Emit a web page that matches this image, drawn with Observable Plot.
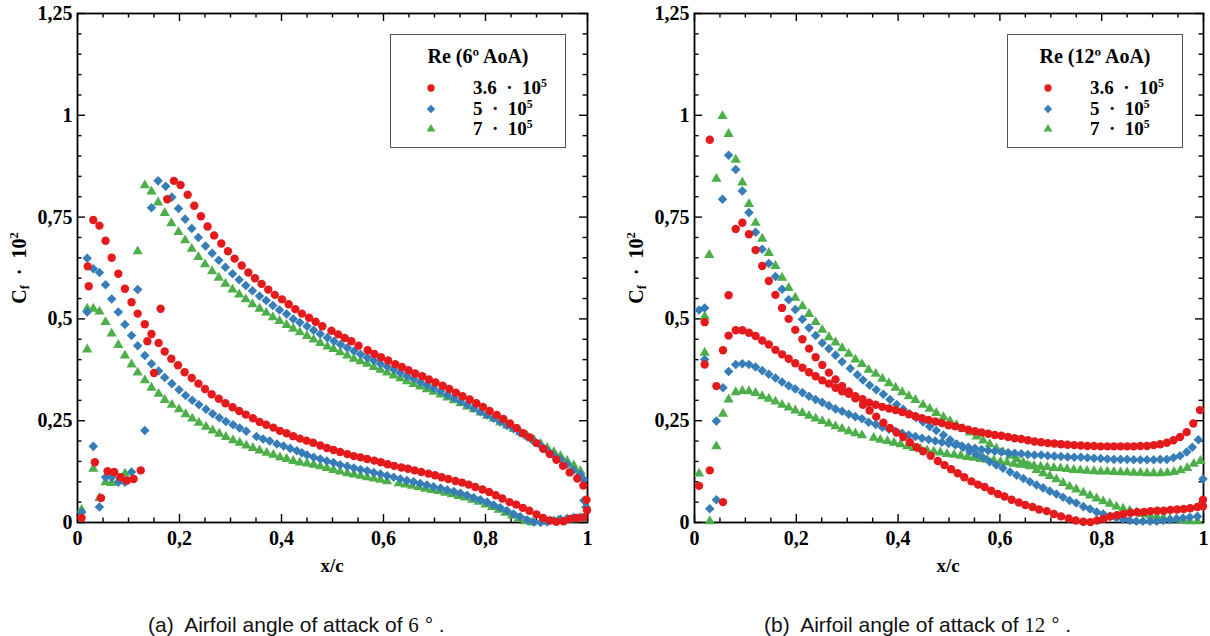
<!DOCTYPE html>
<html><head><meta charset="utf-8">
<script src="https://cdn.jsdelivr.net/npm/d3@7"></script>
<script src="https://cdn.jsdelivr.net/npm/@observablehq/plot@0.6"></script>
<style>
body{margin:0;background:#fff;}
#fig{position:relative;width:1210px;height:636px;overflow:hidden;background:#fff;}
.panel{position:absolute;top:0;}
.serif{font-family:"Liberation Serif","Times New Roman",serif;font-weight:bold;color:#000;white-space:nowrap;}
.serif sup{font-size:0.62em;vertical-align:0.6em;line-height:0;}
.serif sub{font-size:0.62em;vertical-align:-0.3em;line-height:0;}
.cap{position:absolute;font-family:"Liberation Sans",Arial,sans-serif;font-size:21px;color:#111;white-space:pre;}
.cap .m{font-family:"Liberation Serif",serif;}
</style></head><body><div id="fig"></div>
<script>
// ---------- tick values and labels ----------
const xMajorTicks = [0, 0.2, 0.4, 0.6, 0.8, 1];
const xTickLabels = ["0", "0,2", "0,4", "0,6", "0,8", "1"];
const xMinorTicks = [0.05, 0.1, 0.15, 0.25, 0.3, 0.35, 0.45, 0.5, 0.55, 0.65, 0.7, 0.75, 0.85, 0.9, 0.95];
const yMajorTicks = [0, 0.25, 0.5, 0.75, 1, 1.25];
const yTickLabels = ["0", "0,25", "0,5", "0,75", "1", "1,25"];
const yMinorTicks = [0.05, 0.1, 0.15, 0.2, 0.3, 0.35, 0.4, 0.45, 0.55, 0.6, 0.65, 0.7, 0.8, 0.85, 0.9, 0.95, 1.05, 1.1, 1.15, 1.2];
const seriesLabels = ["3.6 &nbsp;·&nbsp; 10<sup>5</sup>", "5 &nbsp;·&nbsp; 10<sup>5</sup>", "7 &nbsp;·&nbsp; 10<sup>5</sup>"];
const legendTitles = ["Re (6º AoA)", "Re (12º AoA)"];
const xAxisLabel = "x/c";
const yAxisLabel = "C<sub>f</sub> &nbsp;·&nbsp; 10<sup>2</sup>";
const captions = ['(a)  Airfoil angle of attack of <span class="m">6</span> ° .', '(b)  Airfoil angle of attack of <span class="m">12</span> ° .'];

// ---------- data: [x/c, Cf*100] ----------
const leftRe36 = [[0.008,0.011],[0.020,0.629],[0.022,0.580],[0.031,0.743],[0.034,0.148],[0.043,0.729],[0.046,0.060],[0.055,0.692],[0.059,0.126],[0.067,0.650],[0.072,0.124],[0.080,0.611],[0.084,0.111],[0.093,0.574],[0.097,0.103],[0.106,0.541],[0.110,0.107],[0.118,0.513],[0.124,0.128],[0.132,0.487],[0.137,0.445],[0.145,0.463],[0.150,0.367],[0.159,0.441],[0.163,0.525],[0.171,0.420],[0.176,0.794],
[0.184,0.402],[0.197,0.386],[0.210,0.369],[0.224,0.355],[0.237,0.341],[0.250,0.328],[0.263,0.315],[0.277,0.304],[0.290,0.293],[0.304,0.283],[0.317,0.274],[0.330,0.265],[0.344,0.256],[0.357,0.247],[0.370,0.240],[0.384,0.233],[0.397,0.225],[0.410,0.219],[0.423,0.212],[0.436,0.206],[0.449,0.201],[0.462,0.196],[0.476,0.189],[0.489,0.183],[0.502,0.178],[0.515,0.173],[0.529,0.168],[0.542,0.163],[0.555,0.160],[0.568,0.156],[0.582,0.152],[0.595,0.148],[0.608,0.143],[0.621,0.139],[0.635,0.135],[0.648,0.132],[0.661,0.128],[0.674,0.124],[0.688,0.120],[0.701,0.116],[0.714,0.111],[0.727,0.107],[0.741,0.102],[0.754,0.098],[0.767,0.093],[0.780,0.087],[0.794,0.081],[0.807,0.075],[0.820,0.067],[0.833,0.059],[0.847,0.050],[0.860,0.044],[0.873,0.036],[0.886,0.029],[0.900,0.020],[0.913,0.011],[0.926,0.005],[0.939,0.002],[0.953,0.003],[0.966,0.009],[0.979,0.011],[0.992,0.012],[0.999,0.030],
[0.189,0.839],[0.202,0.829],[0.216,0.805],[0.229,0.778],[0.242,0.752],[0.255,0.727],[0.268,0.705],[0.282,0.685],[0.295,0.666],[0.308,0.648],[0.322,0.631],[0.335,0.614],[0.348,0.600],[0.361,0.586],[0.374,0.572],[0.387,0.559],[0.401,0.548],[0.414,0.536],[0.427,0.524],[0.440,0.513],[0.454,0.503],[0.467,0.493],[0.480,0.482],[0.498,0.471],[0.511,0.462],[0.524,0.453],[0.537,0.445],[0.551,0.434],[0.569,0.423],[0.582,0.414],[0.595,0.406],[0.609,0.398],[0.623,0.389],[0.636,0.382],[0.649,0.374],[0.662,0.366],[0.676,0.359],[0.689,0.351],[0.702,0.344],[0.716,0.336],[0.729,0.328],[0.742,0.319],[0.755,0.310],[0.769,0.302],[0.782,0.293],[0.795,0.284],[0.808,0.274],[0.822,0.264],[0.835,0.254],[0.848,0.243],[0.861,0.232],[0.874,0.219],[0.887,0.209],[0.900,0.195],[0.913,0.181],[0.926,0.168],[0.939,0.154],[0.952,0.139],[0.965,0.123],[0.980,0.108],[0.992,0.091],[0.998,0.056]];

const leftRe5 = [[0.008,0.025],[0.019,0.649],[0.019,0.517],[0.031,0.623],[0.031,0.187],[0.043,0.614],[0.043,0.038],[0.055,0.584],[0.055,0.111],[0.067,0.549],[0.067,0.111],[0.080,0.517],[0.080,0.099],[0.093,0.486],[0.093,0.099],[0.106,0.459],[0.106,0.124],[0.118,0.572],[0.118,0.434],[0.132,0.410],[0.132,0.226],[0.145,0.390],[0.145,0.773],
[0.159,0.372],[0.171,0.356],[0.185,0.341],[0.199,0.326],[0.212,0.312],[0.225,0.300],[0.238,0.289],[0.252,0.278],[0.265,0.267],[0.278,0.257],[0.291,0.248],[0.305,0.240],[0.318,0.232],[0.331,0.224],[0.351,0.211],[0.364,0.205],[0.377,0.200],[0.391,0.193],[0.404,0.188],[0.417,0.182],[0.430,0.176],[0.440,0.171],[0.450,0.166],[0.463,0.160],[0.476,0.156],[0.489,0.151],[0.502,0.147],[0.515,0.142],[0.529,0.138],[0.542,0.134],[0.555,0.130],[0.568,0.127],[0.581,0.123],[0.594,0.119],[0.607,0.115],[0.620,0.111],[0.633,0.107],[0.646,0.103],[0.659,0.100],[0.672,0.096],[0.685,0.092],[0.698,0.088],[0.712,0.084],[0.725,0.080],[0.738,0.076],[0.751,0.072],[0.764,0.067],[0.777,0.061],[0.790,0.056],[0.803,0.050],[0.816,0.043],[0.829,0.036],[0.842,0.029],[0.855,0.021],[0.868,0.014],[0.882,0.006],[0.895,0.001],[0.908,0.000],[0.921,0.001],[0.934,0.005],[0.947,0.008],[0.960,0.010],[0.973,0.012],[0.986,0.013],[0.993,0.054],
[0.158,0.839],[0.173,0.826],[0.185,0.799],[0.198,0.771],[0.211,0.745],[0.224,0.722],[0.237,0.700],[0.251,0.679],[0.264,0.661],[0.277,0.644],[0.290,0.627],[0.304,0.611],[0.317,0.596],[0.330,0.582],[0.343,0.569],[0.357,0.556],[0.370,0.545],[0.383,0.533],[0.396,0.522],[0.410,0.512],[0.423,0.500],[0.436,0.491],[0.450,0.482],[0.463,0.472],[0.476,0.463],[0.490,0.454],[0.503,0.445],[0.516,0.437],[0.529,0.429],[0.542,0.421],[0.555,0.413],[0.568,0.405],[0.581,0.398],[0.594,0.390],[0.607,0.383],[0.620,0.376],[0.633,0.368],[0.646,0.360],[0.659,0.353],[0.672,0.345],[0.685,0.338],[0.698,0.330],[0.712,0.323],[0.725,0.314],[0.738,0.306],[0.751,0.298],[0.764,0.290],[0.777,0.281],[0.790,0.272],[0.803,0.264],[0.816,0.256],[0.829,0.247],[0.842,0.238],[0.855,0.230],[0.868,0.220],[0.882,0.210],[0.895,0.199],[0.908,0.189],[0.921,0.177],[0.934,0.165],[0.947,0.155],[0.960,0.143],[0.973,0.129],[0.986,0.118],[0.993,0.105],[0.997,0.038]];

const leftRe7 = [[0.008,0.031],[0.019,0.525],[0.019,0.425],[0.031,0.525],[0.031,0.132],[0.043,0.518],[0.043,0.060],[0.055,0.492],[0.055,0.099],[0.067,0.464],[0.067,0.097],[0.080,0.436],[0.080,0.103],[0.093,0.410],[0.093,0.120],[0.106,0.388],[0.118,0.368],[0.118,0.666],[0.132,0.349],[0.132,0.828],
[0.145,0.331],[0.159,0.316],[0.171,0.301],[0.185,0.289],[0.199,0.278],[0.212,0.266],[0.225,0.255],[0.238,0.245],[0.252,0.235],[0.265,0.226],[0.278,0.218],[0.291,0.210],[0.305,0.202],[0.318,0.196],[0.331,0.189],[0.344,0.183],[0.357,0.177],[0.371,0.171],[0.384,0.166],[0.397,0.160],[0.410,0.156],[0.423,0.151],[0.436,0.147],[0.450,0.145],[0.463,0.142],[0.476,0.138],[0.489,0.134],[0.502,0.129],[0.515,0.125],[0.529,0.121],[0.542,0.118],[0.555,0.115],[0.568,0.111],[0.581,0.108],[0.594,0.105],[0.607,0.101],[0.630,0.096],[0.643,0.093],[0.656,0.090],[0.669,0.087],[0.682,0.083],[0.695,0.080],[0.708,0.077],[0.721,0.073],[0.734,0.069],[0.747,0.065],[0.760,0.061],[0.774,0.056],[0.787,0.051],[0.800,0.044],[0.813,0.038],[0.826,0.031],[0.839,0.024],[0.852,0.017],[0.865,0.010],[0.878,0.003],[0.891,0.000],[0.917,0.002],[0.943,0.005],[0.970,0.008],[0.990,0.010],
[0.145,0.813],[0.158,0.786],[0.171,0.760],[0.184,0.735],[0.198,0.713],[0.211,0.693],[0.224,0.672],[0.237,0.652],[0.250,0.634],[0.264,0.617],[0.277,0.601],[0.290,0.586],[0.304,0.572],[0.317,0.560],[0.330,0.548],[0.343,0.536],[0.357,0.525],[0.370,0.515],[0.383,0.504],[0.396,0.495],[0.410,0.485],[0.423,0.476],[0.436,0.467],[0.450,0.458],[0.463,0.449],[0.476,0.441],[0.490,0.432],[0.502,0.426],[0.515,0.418],[0.529,0.410],[0.542,0.402],[0.555,0.396],[0.568,0.390],[0.581,0.382],[0.594,0.375],[0.607,0.368],[0.620,0.361],[0.633,0.354],[0.646,0.347],[0.659,0.340],[0.672,0.334],[0.685,0.327],[0.698,0.321],[0.712,0.314],[0.725,0.307],[0.738,0.300],[0.751,0.293],[0.764,0.285],[0.777,0.278],[0.790,0.270],[0.803,0.262],[0.816,0.255],[0.829,0.246],[0.842,0.238],[0.855,0.230],[0.868,0.222],[0.882,0.212],[0.895,0.203],[0.908,0.193],[0.921,0.183],[0.934,0.173],[0.947,0.163],[0.960,0.151],[0.973,0.140],[0.986,0.126]];

const rightRe36 = [[0.009,0.090],[0.020,0.492],[0.020,0.388],[0.030,0.940],[0.030,0.128],[0.043,0.335],[0.056,0.050],[0.056,0.423],[0.067,0.558],[0.067,0.459],[0.081,0.721],[0.081,0.472],[0.094,0.736],[0.094,0.472],[0.107,0.708],[0.107,0.466],[0.120,0.669],[0.120,0.458],[0.133,0.630],[0.133,0.447],[0.146,0.593],[0.146,0.437],[0.159,0.559],[0.159,0.424],[0.172,0.527],[0.172,0.413],[0.185,0.500],[0.185,0.402],[0.198,0.473],[0.198,0.391],[0.212,0.450],[0.212,0.380],[0.225,0.427],[0.225,0.369],[0.238,0.406],[0.238,0.359],[0.251,0.387],[0.251,0.349],[0.264,0.368],[0.264,0.341],[0.277,0.351],[0.277,0.331],[0.290,0.335],[0.290,0.322],[0.303,0.322],[0.303,0.316],
[0.316,0.305],[0.331,0.289],[0.344,0.275],[0.357,0.260],[0.371,0.245],[0.384,0.232],[0.397,0.221],[0.410,0.210],[0.423,0.197],[0.436,0.185],[0.449,0.175],[0.464,0.164],[0.478,0.151],[0.491,0.141],[0.504,0.131],[0.517,0.121],[0.530,0.111],[0.544,0.101],[0.557,0.093],[0.570,0.087],[0.583,0.078],[0.596,0.070],[0.609,0.064],[0.623,0.056],[0.637,0.049],[0.650,0.043],[0.664,0.038],[0.677,0.032],[0.692,0.028],[0.706,0.021],[0.720,0.015],[0.735,0.010],[0.749,0.005],[0.764,0.002],[0.778,0.001],[0.791,0.005],[0.804,0.009],[0.817,0.015],[0.830,0.018],[0.843,0.021],[0.857,0.024],[0.870,0.025],[0.883,0.026],[0.896,0.028],[0.909,0.029],[0.922,0.029],[0.935,0.031],[0.948,0.032],[0.961,0.033],[0.974,0.035],[0.988,0.038],[0.999,0.056],[0.999,0.040],
[0.316,0.310],[0.330,0.303],[0.343,0.294],[0.356,0.289],[0.369,0.284],[0.382,0.280],[0.395,0.276],[0.408,0.271],[0.421,0.266],[0.434,0.261],[0.447,0.256],[0.460,0.252],[0.473,0.248],[0.486,0.244],[0.499,0.239],[0.512,0.236],[0.525,0.232],[0.538,0.228],[0.551,0.224],[0.564,0.221],[0.577,0.218],[0.590,0.215],[0.603,0.213],[0.616,0.210],[0.629,0.207],[0.642,0.205],[0.655,0.202],[0.668,0.199],[0.681,0.197],[0.694,0.195],[0.707,0.194],[0.720,0.192],[0.733,0.191],[0.746,0.190],[0.759,0.189],[0.772,0.188],[0.785,0.188],[0.798,0.187],[0.811,0.187],[0.824,0.187],[0.837,0.187],[0.850,0.187],[0.863,0.187],[0.876,0.188],[0.889,0.188],[0.902,0.190],[0.915,0.192],[0.928,0.196],[0.941,0.202],[0.954,0.210],[0.967,0.222],[0.980,0.243],[0.993,0.276]];

const rightRe5 = [[0.009,0.522],[0.020,0.527],[0.020,0.400],[0.030,0.034],[0.043,0.249],[0.043,0.056],[0.056,0.331],[0.055,0.794],
[0.067,0.902],[0.081,0.867],[0.094,0.814],[0.107,0.761],[0.120,0.713],[0.133,0.671],[0.146,0.636],[0.159,0.604],[0.172,0.573],[0.185,0.547],[0.198,0.523],[0.212,0.499],[0.225,0.478],[0.238,0.459],[0.251,0.441],[0.264,0.427],[0.277,0.411],[0.290,0.395],[0.306,0.378],[0.320,0.363],[0.331,0.350],[0.344,0.337],[0.357,0.326],[0.371,0.315],[0.384,0.302],[0.397,0.290],[0.410,0.278],[0.423,0.267],[0.436,0.257],[0.449,0.247],[0.462,0.236],[0.475,0.226],[0.489,0.215],[0.502,0.203],[0.515,0.193],[0.528,0.185],[0.541,0.175],[0.554,0.167],[0.567,0.159],[0.580,0.149],[0.593,0.141],[0.606,0.133],[0.620,0.124],[0.633,0.116],[0.646,0.108],[0.659,0.100],[0.672,0.092],[0.685,0.085],[0.698,0.077],[0.711,0.070],[0.724,0.062],[0.737,0.054],[0.750,0.048],[0.764,0.039],[0.777,0.033],[0.790,0.026],[0.803,0.021],[0.816,0.015],[0.829,0.011],[0.842,0.008],[0.855,0.005],[0.868,0.003],[0.881,0.003],[0.895,0.003],[0.908,0.003],[0.921,0.005],[0.934,0.007],[0.947,0.009],[0.960,0.011],[0.973,0.013],[0.988,0.015],[0.999,0.107],
[0.067,0.371],[0.081,0.388],[0.094,0.390],[0.107,0.388],[0.120,0.382],[0.133,0.373],[0.146,0.364],[0.159,0.355],[0.172,0.345],[0.185,0.336],[0.198,0.328],[0.212,0.319],[0.225,0.310],[0.238,0.302],[0.251,0.295],[0.264,0.287],[0.277,0.279],[0.290,0.273],[0.303,0.266],[0.316,0.260],[0.329,0.255],[0.342,0.246],[0.356,0.241],[0.369,0.234],[0.382,0.229],[0.395,0.224],[0.408,0.219],[0.421,0.215],[0.434,0.211],[0.447,0.207],[0.460,0.204],[0.473,0.200],[0.486,0.197],[0.499,0.194],[0.512,0.191],[0.525,0.188],[0.538,0.185],[0.551,0.182],[0.564,0.179],[0.577,0.177],[0.590,0.175],[0.603,0.173],[0.616,0.171],[0.629,0.170],[0.642,0.169],[0.655,0.167],[0.668,0.166],[0.681,0.166],[0.694,0.164],[0.707,0.163],[0.720,0.162],[0.733,0.161],[0.746,0.160],[0.759,0.160],[0.772,0.159],[0.785,0.158],[0.798,0.157],[0.811,0.156],[0.824,0.155],[0.837,0.155],[0.850,0.155],[0.863,0.154],[0.876,0.154],[0.889,0.154],[0.902,0.154],[0.915,0.155],[0.928,0.155],[0.941,0.159],[0.954,0.164],[0.967,0.173],[0.978,0.185],[0.990,0.203]];

const rightRe7 = [[0.009,0.120],[0.020,0.506],[0.020,0.417],[0.030,0.003],[0.029,0.657],[0.043,0.844],[0.043,0.187],[0.055,0.998],[0.056,0.267],
[0.067,0.954],[0.081,0.891],[0.094,0.835],[0.107,0.782],[0.120,0.736],[0.133,0.697],[0.146,0.662],[0.159,0.630],[0.172,0.601],[0.185,0.576],[0.198,0.552],[0.212,0.531],[0.225,0.512],[0.238,0.492],[0.251,0.473],[0.264,0.455],[0.277,0.442],[0.290,0.428],[0.303,0.414],[0.316,0.400],[0.329,0.389],[0.342,0.375],[0.356,0.365],[0.369,0.353],[0.382,0.342],[0.395,0.331],[0.408,0.320],[0.421,0.310],[0.434,0.301],[0.449,0.289],[0.462,0.279],[0.475,0.269],[0.489,0.259],[0.502,0.249],[0.515,0.239],[0.528,0.230],[0.541,0.221],[0.554,0.211],[0.567,0.201],[0.580,0.192],[0.593,0.182],[0.606,0.173],[0.620,0.164],[0.633,0.156],[0.646,0.147],[0.659,0.138],[0.672,0.129],[0.685,0.121],[0.698,0.114],[0.711,0.106],[0.724,0.097],[0.737,0.088],[0.750,0.081],[0.764,0.073],[0.777,0.066],[0.790,0.059],[0.803,0.052],[0.816,0.046],[0.829,0.039],[0.842,0.034],[0.855,0.029],[0.868,0.025],[0.881,0.021],[0.895,0.017],[0.908,0.015],[0.921,0.012],[0.934,0.009],[0.947,0.008],[0.960,0.005],[0.973,0.003],[0.988,0.003],
[0.067,0.302],[0.081,0.320],[0.094,0.323],[0.107,0.322],[0.120,0.318],[0.133,0.310],[0.146,0.304],[0.159,0.297],[0.172,0.289],[0.185,0.282],[0.198,0.275],[0.212,0.269],[0.225,0.262],[0.238,0.255],[0.251,0.249],[0.264,0.243],[0.277,0.236],[0.290,0.230],[0.303,0.224],[0.316,0.219],[0.329,0.214],[0.352,0.208],[0.365,0.203],[0.379,0.200],[0.392,0.196],[0.405,0.192],[0.418,0.187],[0.431,0.183],[0.444,0.180],[0.457,0.177],[0.470,0.174],[0.483,0.172],[0.496,0.168],[0.510,0.166],[0.523,0.164],[0.536,0.161],[0.549,0.159],[0.562,0.156],[0.575,0.154],[0.588,0.152],[0.601,0.149],[0.614,0.147],[0.627,0.144],[0.640,0.142],[0.654,0.141],[0.667,0.139],[0.680,0.137],[0.693,0.136],[0.706,0.134],[0.719,0.133],[0.732,0.131],[0.745,0.129],[0.758,0.128],[0.771,0.127],[0.785,0.126],[0.798,0.125],[0.811,0.125],[0.824,0.124],[0.837,0.123],[0.850,0.123],[0.863,0.122],[0.876,0.122],[0.889,0.121],[0.902,0.121],[0.916,0.121],[0.929,0.122],[0.942,0.124],[0.955,0.128],[0.968,0.134],[0.981,0.144],[0.994,0.151]];

// ---------- styles ----------
const colors = ["#e41a1c", "#377eb8", "#4daf4a"];
const symbols = ["circle", "diamond2", "triangle"];
const radii = [4.2, 4.3, 3.8];
const serifFont = '"Liberation Serif", "Times New Roman", serif';

const fig = document.getElementById("fig");

function makePanel(sets, plotW, width) {
  const ml = 77, mt = 13, mb = 58, H = 580;
  const mr = width - ml - plotW;
  const kx = 1 / plotW, ky = 1.25 / (H - mt - mb);
  const sw = 1.4;
  const marks = [];
  for (const [list, len] of [[xMajorTicks, 8], [xMinorTicks, 4.5]]) {
    marks.push(Plot.ruleX(list, {x: d => d, y1: () => 0, y2: () => len * ky, stroke: "#000", strokeWidth: sw}));
    marks.push(Plot.ruleX(list, {x: d => d, y1: () => 1.25 - len * ky, y2: () => 1.25, stroke: "#000", strokeWidth: sw}));
  }
  for (const [list, len] of [[yMajorTicks, 8], [yMinorTicks, 4.5]]) {
    marks.push(Plot.ruleY(list, {y: d => d, x1: () => 0, x2: () => len * kx, stroke: "#000", strokeWidth: sw}));
    marks.push(Plot.ruleY(list, {y: d => d, x1: () => 1 - len * kx, x2: () => 1, stroke: "#000", strokeWidth: sw}));
  }
  marks.push(Plot.frame({stroke: "#000", strokeWidth: 1.8}));
  marks.push(Plot.axisY(yMajorTicks, {tickSize: 0, tickPadding: 5, label: null,
    tickFormat: d => yTickLabels[yMajorTicks.indexOf(d)], fontSize: 20, fontWeight: "bold", fontFamily: serifFont}));
  marks.push(Plot.axisX(xMajorTicks, {tickSize: 0, tickPadding: 8, label: null,
    tickFormat: d => xTickLabels[xMajorTicks.indexOf(d)], fontSize: 20, fontWeight: "bold", fontFamily: serifFont}));
  // draw order: 7e5, 5e5, 3.6e5 (red on top)
  for (const i of [2, 1, 0]) {
    marks.push(Plot.dot(sets[i], {x: d => d[0], y: d => d[1], symbol: symbols[i], fill: colors[i], r: radii[i], stroke: "none"}));
  }
  return Plot.plot({
    width, height: H, marginLeft: ml, marginRight: mr, marginTop: mt, marginBottom: mb,
    x: {domain: [0, 1]}, y: {domain: [0, 1.25]},
    style: {fontFamily: serifFont, fontSize: "20px", fontWeight: "bold", background: "transparent", overflow: "visible", color: "#000"},
    marks
  });
}

const panels = [
  {left: 0, width: 607, plotW: 510, sets: [leftRe36, leftRe5, leftRe7], title: legendTitles[0], legendLeft: 390, caption: captions[0], captionLeft: 148, ylabelX: 19, xlabelX: 332},
  {left: 617, width: 593, plotW: 509, sets: [rightRe36, rightRe5, rightRe7], title: legendTitles[1], legendLeft: 1007, caption: captions[1], captionLeft: 764, ylabelX: 636, xlabelX: 948}
];

function symbolPath(i) {
  const map = {circle: d3.symbolCircle, diamond2: d3.symbolDiamond2, triangle: d3.symbolTriangle};
  return d3.symbol(map[symbols[i]], Math.PI * radii[i] * radii[i] * 0.75)();
}

for (const p of panels) {
  const holder = document.createElement("div");
  holder.className = "panel";
  holder.style.left = p.left + "px";
  holder.appendChild(makePanel(p.sets, p.plotW, p.width));
  fig.appendChild(holder);

  // y label
  const yl = document.createElement("div");
  yl.className = "serif";
  yl.style.cssText += `position:absolute;left:${p.ylabelX}px;top:268px;font-size:20px;transform:translate(-50%,-50%) rotate(-90deg);`;
  yl.innerHTML = yAxisLabel;
  fig.appendChild(yl);

  // x label
  const xl = document.createElement("div");
  xl.className = "serif";
  xl.style.cssText += `position:absolute;left:${p.xlabelX}px;top:566px;font-size:19px;transform:translate(-50%,-50%);`;
  xl.textContent = xAxisLabel;
  fig.appendChild(xl);

  // legend
  const box = document.createElement("div");
  box.style.cssText = `position:absolute;left:${p.legendLeft}px;top:34px;width:176px;height:114px;border:1px solid #555;background:#fff;box-sizing:border-box;`;
  const t = document.createElement("div");
  t.className = "serif";
  t.style.cssText += "position:absolute;left:0;right:0;top:10px;text-align:center;font-size:20px;line-height:22px;";
  t.textContent = p.title;
  box.appendChild(t);
  const rows = [53, 74, 94];
  for (let i = 0; i < 3; i++) {
    const s = document.createElementNS("http://www.w3.org/2000/svg", "svg");
    s.setAttribute("width", 14); s.setAttribute("height", 14);
    s.style.cssText = `position:absolute;left:${40 - 7}px;top:${rows[i] - 7}px;overflow:visible;`;
    const path = document.createElementNS("http://www.w3.org/2000/svg", "path");
    path.setAttribute("d", symbolPath(i));
    path.setAttribute("transform", "translate(7,7)");
    path.setAttribute("fill", colors[i]);
    s.appendChild(path);
    box.appendChild(s);
    const lab = document.createElement("div");
    lab.className = "serif";
    lab.style.cssText += `position:absolute;left:82px;top:${rows[i] - 11}px;font-size:19px;line-height:22px;`;
    lab.innerHTML = seriesLabels[i];
    box.appendChild(lab);
  }
  fig.appendChild(box);

  // caption
  const c = document.createElement("div");
  c.className = "cap";
  c.style.cssText += `left:${p.captionLeft}px;top:612px;line-height:26px;`;
  c.innerHTML = p.caption;
  fig.appendChild(c);
}
</script></body></html>
